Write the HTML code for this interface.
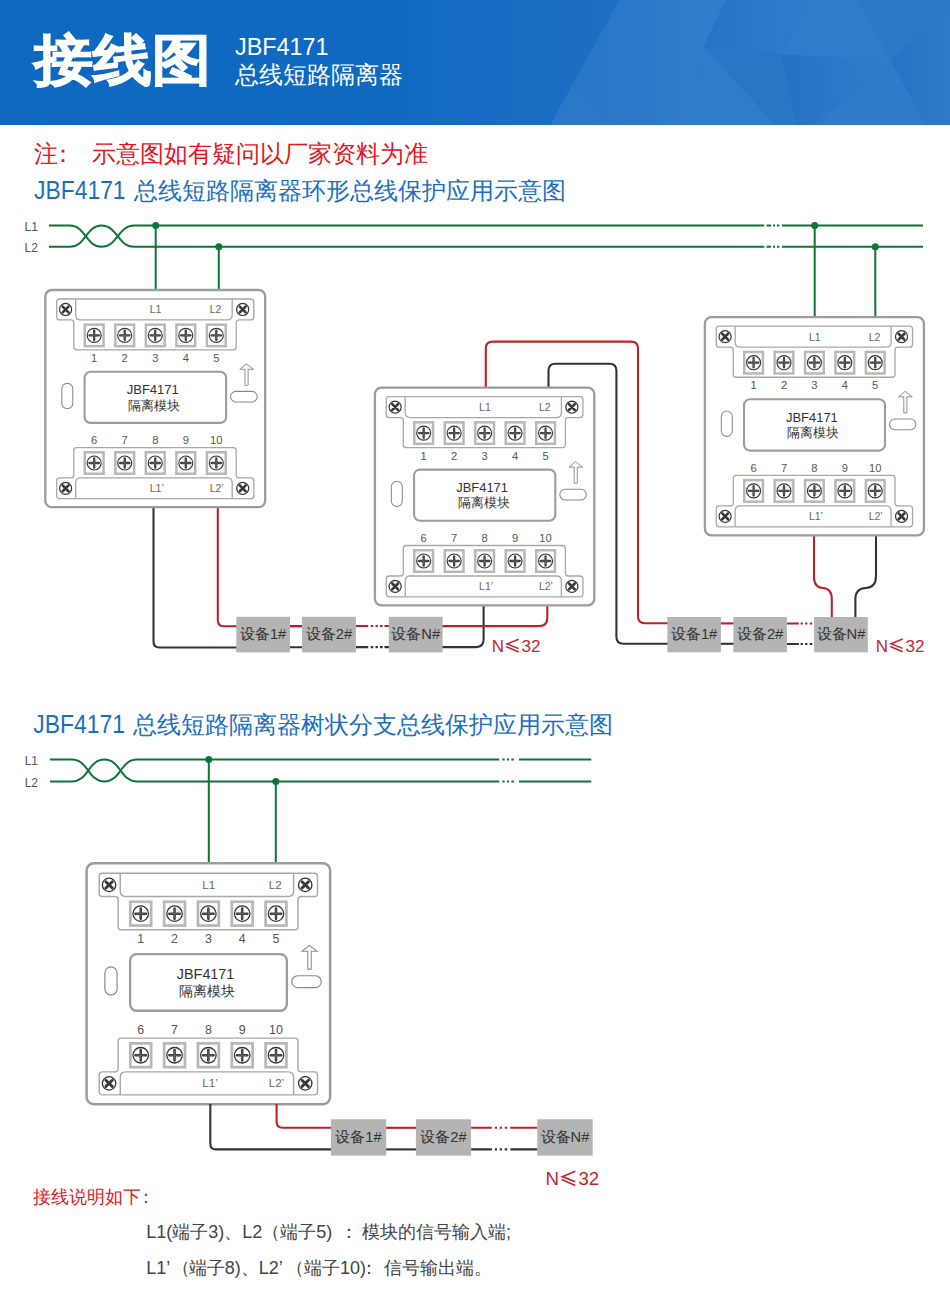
<!DOCTYPE html><html><head><meta charset="utf-8"><style>
html,body{margin:0;padding:0;background:#fff;} body{width:950px;height:1295px;overflow:hidden;position:relative;font-family:"Liberation Sans", sans-serif;}
svg{position:absolute;left:0;top:0;}
text{font-family:"Liberation Sans", sans-serif;}
.num{font-size:11.2px;fill:#555;text-anchor:middle;}
.lab{font-size:10.5px;fill:#666;}
.mt{font-size:13px;fill:#333;text-anchor:middle;}
.dev{font-size:14.7px;fill:#333;text-anchor:middle;}
</style></head><body>
<svg width="950" height="1295" viewBox="0 0 950 1295">
<defs>
<g id="screw"><circle r="6.05" fill="#fff" stroke="#333" stroke-width="1.2"/>
<path d="M-2.9,-2.9 L2.9,2.9 M2.9,-2.9 L-2.9,2.9" stroke="#383838" stroke-width="2.6" stroke-linecap="round"/></g>
<g id="term"><rect x="-9.4" y="-10.75" width="18.8" height="21.5" fill="#fff" stroke="#b8b8b8" stroke-width="2.5"/>
<circle r="7" fill="#fff" stroke="#333" stroke-width="1.15"/>
<path d="M-4.7,0 H4.7 M0,-4.7 V4.7" stroke="#3a3a3a" stroke-width="2.3" stroke-linecap="round"/>
<path d="M-4.2,0 H4.2 M0,-4.2 V4.2" stroke="#777" stroke-width="0.55"/></g>
<g id="mod">
<rect x="0" y="0" width="220" height="217.7" rx="6.5" fill="#fff" stroke="#9c9c9c" stroke-width="2.3"/>
<path d="M11.4,12 Q11.4,9 14.4,9 H205.6 Q208.6,9 208.6,12 V27 Q208.6,30 205.6,30 H194 Q191,30 191,33 V57 Q191,60 188,60 H31.5 Q28.5,60 28.5,57 V33 Q28.5,30 25.5,30 H14.4 Q11.4,30 11.4,27 Z" fill="none" stroke="#a8a8a8" stroke-width="1.3"/>
<path d="M30.4,9 V25 Q30.4,30 35.4,30 H182 Q187,30 187,25 V9" fill="none" stroke="#a8a8a8" stroke-width="1.3"/>
<path d="M11.4,206.2 Q11.4,209.2 14.4,209.2 H205.6 Q208.6,209.2 208.6,206.2 V191.4 Q208.6,188.4 205.6,188.4 H194 Q191,188.4 191,185.4 V160.9 Q191,157.9 188,157.9 H31.5 Q28.5,157.9 28.5,160.9 V185.4 Q28.5,188.4 25.5,188.4 H14.4 Q11.4,188.4 11.4,191.4 Z" fill="none" stroke="#a8a8a8" stroke-width="1.3"/>
<path d="M30.4,209.2 V193.4 Q30.4,188.4 35.4,188.4 H182 Q187,188.4 187,193.4 V209.2" fill="none" stroke="#a8a8a8" stroke-width="1.3"/>
<use href="#screw" x="20.3" y="19.5"/>
<use href="#screw" x="197.5" y="19.5"/>
<use href="#screw" x="20.3" y="198.8"/>
<use href="#screw" x="197.5" y="198.8"/>
<use href="#term" x="48.90" y="45.5"/>
<use href="#term" x="48.90" y="173.4"/>
<text x="48.90" y="72" class="num">1</text>
<text x="48.90" y="154.3" class="num">6</text>
<use href="#term" x="79.45" y="45.5"/>
<use href="#term" x="79.45" y="173.4"/>
<text x="79.45" y="72" class="num">2</text>
<text x="79.45" y="154.3" class="num">7</text>
<use href="#term" x="110.00" y="45.5"/>
<use href="#term" x="110.00" y="173.4"/>
<text x="110.00" y="72" class="num">3</text>
<text x="110.00" y="154.3" class="num">8</text>
<use href="#term" x="140.55" y="45.5"/>
<use href="#term" x="140.55" y="173.4"/>
<text x="140.55" y="72" class="num">4</text>
<text x="140.55" y="154.3" class="num">9</text>
<use href="#term" x="171.10" y="45.5"/>
<use href="#term" x="171.10" y="173.4"/>
<text x="171.10" y="72" class="num">5</text>
<text x="171.10" y="154.3" class="num">10</text>
<text x="104.5" y="23.5" class="lab">L1</text>
<text x="164.5" y="23.5" class="lab">L2</text>
<text x="104.5" y="202.4" class="lab">L1’</text>
<text x="164.5" y="202.4" class="lab">L2’</text>
<rect x="39.3" y="82" width="141.6" height="51.2" rx="6" fill="none" stroke="#9c9c9c" stroke-width="2.1"/>
<text x="107.5" y="104.6" class="mt">JBF4171</text>
<text x="109" y="119.8" class="mt">隔离模块</text>
<rect x="16.5" y="93.6" width="11" height="25.4" rx="5.5" fill="none" stroke="#8a8a8a" stroke-width="1.05"/>
<rect x="185.4" y="101.6" width="26.6" height="10.7" rx="5.35" fill="none" stroke="#8a8a8a" stroke-width="1.05"/>
<path d="M201.2,74.1 L208.3,79.5 H202.9 V95.6 H199.8 V79.5 H194.6 Z" fill="none" stroke="#8a8a8a" stroke-width="0.95" stroke-linejoin="miter"/>
</g><linearGradient id="hg" x1="0" y1="0" x2="1" y2="0"><stop offset="0" stop-color="#0e68c0"/><stop offset="0.40" stop-color="#0f69c1"/><stop offset="0.65" stop-color="#1e6fc3"/><stop offset="1" stop-color="#2c7bc8"/></linearGradient><linearGradient id="f1" x1="0" y1="0" x2="1" y2="0"><stop offset="0" stop-color="#2877c7"/><stop offset="0.5" stop-color="#2a78c7"/><stop offset="1" stop-color="#307fcb"/></linearGradient><linearGradient id="f3" x1="0" y1="0" x2="1" y2="0"><stop offset="0" stop-color="#2573c3"/><stop offset="1" stop-color="#2e7cca"/></linearGradient><linearGradient id="f8" x1="0" y1="0" x2="1" y2="0"><stop offset="0" stop-color="#2471c2"/><stop offset="1" stop-color="#2f7eca"/></linearGradient><linearGradient id="f11" x1="0" y1="0" x2="1" y2="0"><stop offset="0" stop-color="#2572c2"/><stop offset="1" stop-color="#2d7bc8"/></linearGradient></defs>
<rect x="0" y="0" width="950" height="125" fill="url(#hg)"/>
<polygon points="619.6,0 684.4,0 703.6,47 690,125 619.6,125 571,87" fill="url(#f1)"/>
<polygon points="571,87 619.6,125 550.3,125" fill="#2b78c8"/>
<polygon points="684.4,0 725.7,0 703.6,47" fill="#2f7ecb"/>
<polygon points="725.7,0 811,0 781.7,54.5 703.6,47" fill="url(#f3)"/>
<polygon points="703.6,47 781.7,54.5 796.4,125 775.8,125" fill="#2976c5"/>
<polygon points="703.6,47 775.8,125 690,125" fill="#2e7dca"/>
<polygon points="811,0 858,0 890.8,60.5 781.7,54.5" fill="#2e7dca"/>
<polygon points="781.7,54.5 890.8,60.5 813,125 796.4,125" fill="url(#f8)"/>
<polygon points="890.8,60.5 926,125 813,125" fill="#2d7bc9"/>
<polygon points="858,0 950,0 950,5.3 890.8,60.5" fill="#2b78c6"/>
<polygon points="950,5.3 950,125 926,125 890.8,60.5" fill="url(#f11)"/>
<text transform="translate(33.8,79.2) scale(1,0.933)" x="0" y="0" style="font-size:59px;font-weight:bold;fill:#fff;stroke:#fff;stroke-width:1.2">接线图</text>
<text x="235" y="54.5" style="font-size:23.4px;fill:#fff">JBF4171</text>
<text x="235" y="83" style="font-size:23.5px;fill:#fff">总线短路隔离器</text>
<text x="34" y="162" style="font-size:24px;fill:#e3161e">注</text><text x="51.2" y="162" style="font-size:24px;fill:#e3161e">：</text>
<text x="92" y="162" style="font-size:24px;fill:#e3161e">示意图如有疑问以厂家资料为准</text>
<text x="34" y="198.8" style="font-size:25px;fill:#1a6fc0" textLength="91.6" lengthAdjust="spacingAndGlyphs">JBF4171</text>
<text x="133.5" y="198.8" style="font-size:24px;fill:#1a6fc0">总线短路隔离器环形总线保护应用示意图</text>
<path d="M49,225.6 H70 C85.75,225.6 85.75,246.8 101.5,246.8 C117.75,246.8 117.75,225.6 134,225.6 H923" fill="none" stroke="#0d7538" stroke-width="2"/>
<path d="M49,246.8 H70 C85.75,246.8 85.75,225.6 101.5,225.6 C117.75,225.6 117.75,246.8 134,246.8 H923" fill="none" stroke="#0d7538" stroke-width="2"/>
<text x="24.5" y="230.8" style="font-size:12px;fill:#555">L1</text>
<text x="24.5" y="251.8" style="font-size:12px;fill:#555">L2</text>
<rect x="764.3" y="220" width="17.7" height="32" fill="#fff"/>
<path d="M766.5,225.6 H771 M773,225.6 H775 M777,225.6 H779.3" stroke="#0d7538" stroke-width="2"/>
<path d="M766.5,246.8 H771 M773,246.8 H775 M777,246.8 H779.3" stroke="#0d7538" stroke-width="2"/>
<circle cx="155.7" cy="225.6" r="3.5" fill="#0d7538"/>
<circle cx="218.8" cy="246.8" r="3.5" fill="#0d7538"/>
<circle cx="814.7" cy="225.6" r="3.5" fill="#0d7538"/>
<circle cx="875.3" cy="246.8" r="3.5" fill="#0d7538"/>
<path d="M155.7,225.6 V290 M218.8,246.8 V290 M814.7,225.6 V318 M875.3,246.8 V318" stroke="#0d7538" stroke-width="2"/>
<path d="M153.5,507 V641.5 Q153.5,647.5 159.5,647.5 H237" fill="none" stroke="#333333" stroke-width="2.1"/>
<path d="M217.8,507 V620.2 Q217.8,626.2 223.8,626.2 H237" fill="none" stroke="#c0202a" stroke-width="2.1"/>
<path d="M290,647.3 H302 M290,626.1 H302" stroke="#333333" stroke-width="2.1"/>
<path d="M290,626.1 H302" stroke="#c0202a" stroke-width="2.1"/>
<path d="M355.8,626.05 H368.2 M370.8,626.05 H373.2 M375.5,626.05 H377.9 M380,626.05 H382.6 M384.5,626.05 H389" stroke="#c0202a" stroke-width="2.1" fill="none"/>
<path d="M355.8,647.1 H368.2 M370.8,647.1 H373.2 M375.5,647.1 H377.9 M380,647.1 H382.6 M384.5,647.1 H389" stroke="#333333" stroke-width="2.1" fill="none"/>
<path d="M442,647.1 H476.1 Q483.6,647.1 483.6,639.6 V604.7" fill="none" stroke="#333333" stroke-width="2.1"/>
<path d="M442,626.1 H539.3 Q547.3,626.1 547.3,618.1 V604.7" fill="none" stroke="#c0202a" stroke-width="2.1"/>
<path d="M485.8,388 V348.6 Q485.8,341.6 492.8,341.6 H631 Q638,341.6 638,348.6 V616.3 Q638,623.3 645,623.3 H668" fill="none" stroke="#c0202a" stroke-width="2.1"/>
<path d="M548.5,388 V370.7 Q548.5,363.7 555.5,363.7 H609.4 Q616.4,363.7 616.4,370.7 V636.7 Q616.4,643.7 623.4,643.7 H668" fill="none" stroke="#333333" stroke-width="2.1"/>
<path d="M720.5,623.4 H734" stroke="#c0202a" stroke-width="2.1"/>
<path d="M720.5,643.8 H734" stroke="#333333" stroke-width="2.1"/>
<path d="M786.9,623.45 H798.9 M800.6,623.45 H802.9 M805,623.45 H807.4 M809.7,623.45 H812.2" stroke="#c0202a" stroke-width="2.1" fill="none"/>
<path d="M786.9,644.0 H798.9 M800.6,644.0 H802.9 M805,644.0 H807.4 M809.7,644.0 H812.2" stroke="#333333" stroke-width="2.1" fill="none"/>
<path d="M814,535 V577 Q814,587.5 822.9,588 Q831.8,588.5 831.8,599 V618" fill="none" stroke="#c0202a" stroke-width="2.1"/>
<path d="M876,535 V576 Q876,587.5 865.7,588 Q855.4,588.5 855.4,599 V618" fill="none" stroke="#333333" stroke-width="2.1"/>
<rect x="236.3" y="616.8" width="53.7" height="35.6" fill="#b4b4b4"/><text x="263.1" y="638.8" class="dev">设备1#</text>
<rect x="302" y="616.8" width="53.9" height="35.6" fill="#b4b4b4"/><text x="328.9" y="638.8" class="dev">设备2#</text>
<rect x="388.8" y="616.8" width="53.8" height="35.6" fill="#b4b4b4"/><text x="415.7" y="638.8" class="dev">设备N#</text>
<rect x="667.4" y="617" width="53.5" height="35.3" fill="#b4b4b4"/><text x="694.1" y="638.7" class="dev">设备1#</text>
<rect x="733.4" y="617" width="53.5" height="35.3" fill="#b4b4b4"/><text x="760.1" y="638.7" class="dev">设备2#</text>
<rect x="814.1" y="617" width="53.7" height="35.3" fill="#b4b4b4"/><text x="841.0" y="638.7" class="dev">设备N#</text>
<text x="491.70" y="651.7" style="font-size:17.00px;fill:#c0272d">N</text><path d="M518.70,639.20 L506.90,644.00 L518.70,648.60 M506.30,646.70 L518.70,652.00" fill="none" stroke="#c0272d" stroke-width="1.50"/><text x="521.50" y="651.7" style="font-size:17.00px;fill:#c0272d">32</text>
<text x="875.70" y="651.5" style="font-size:17.00px;fill:#c0272d">N</text><path d="M902.70,639.00 L890.90,643.80 L902.70,648.40 M890.30,646.50 L902.70,651.80" fill="none" stroke="#c0272d" stroke-width="1.50"/><text x="905.50" y="651.5" style="font-size:17.00px;fill:#c0272d">32</text>
<use href="#mod" transform="translate(45.3,290) scale(0.9995,0.9977)"/>
<use href="#mod" transform="translate(374.9,387.6) scale(0.9973,1)"/>
<use href="#mod" transform="translate(704.9,317.1) scale(0.9955,1.0023)"/>
<text x="33.3" y="733.2" style="font-size:25px;fill:#1a6fc0" textLength="91.6" lengthAdjust="spacingAndGlyphs">JBF4171</text>
<text x="133" y="733.2" style="font-size:24px;fill:#1a6fc0">总线短路隔离器树状分支总线保护应用示意图</text>
<path d="M50,759.6 H72 C88.2,759.6 88.2,781.5 104.4,781.5 C120.60000000000001,781.5 120.60000000000001,759.6 136.8,759.6 H591.3" fill="none" stroke="#0d7538" stroke-width="2"/>
<path d="M50,781.5 H72 C88.2,781.5 88.2,759.6 104.4,759.6 C120.60000000000001,759.6 120.60000000000001,781.5 136.8,781.5 H591.3" fill="none" stroke="#0d7538" stroke-width="2"/>
<text x="24.7" y="764.7" style="font-size:12px;fill:#555">L1</text>
<text x="24.7" y="786.8" style="font-size:12px;fill:#555">L2</text>
<rect x="499.2" y="754" width="19.8" height="32" fill="#fff"/>
<path d="M502.4,759.6 H504.7 M507,759.6 H509 M511.4,759.6 H513.9" stroke="#0d7538" stroke-width="2"/>
<path d="M502.4,781.5 H504.7 M507,781.5 H509 M511.4,781.5 H513.9" stroke="#0d7538" stroke-width="2"/>
<circle cx="208.8" cy="759.6" r="3.5" fill="#0d7538"/>
<circle cx="275.8" cy="781.5" r="3.5" fill="#0d7538"/>
<path d="M208.8,759.6 V864 M275.8,781.5 V864" stroke="#0d7538" stroke-width="2"/>
<use href="#mod" transform="translate(86.6,863.3) scale(1.107,1.107)"/>
<path d="M210.3,1104 V1143.4 Q210.3,1149.4 216.3,1149.4 H332" fill="none" stroke="#333333" stroke-width="2.1"/>
<path d="M276.6,1104 V1121.8 Q276.6,1127.8 282.6,1127.8 H332" fill="none" stroke="#c0202a" stroke-width="2.1"/>
<path d="M386,1127.8 H416" stroke="#c0202a" stroke-width="2.1"/>
<path d="M386,1149.4 H416" stroke="#333333" stroke-width="2.1"/>
<path d="M471.1,1127.8 H491.9 M494.9,1127.8 H497 M499.7,1127.8 H502 M504.7,1127.8 H507.1 M510.3,1127.8 H537.5" stroke="#c0202a" stroke-width="2.1" fill="none"/>
<path d="M471.1,1149.4 H491.9 M494.9,1149.4 H497 M499.7,1149.4 H502 M504.7,1149.4 H507.1 M510.3,1149.4 H537.5" stroke="#333333" stroke-width="2.1" fill="none"/>
<rect x="330.9" y="1119.3" width="55.3" height="36.3" fill="#b4b4b4"/><text x="358.5" y="1142.0" class="dev">设备1#</text>
<rect x="415.9" y="1119.3" width="55.2" height="36.3" fill="#b4b4b4"/><text x="443.5" y="1142.0" class="dev">设备2#</text>
<rect x="537.3" y="1119.3" width="55.4" height="36.3" fill="#b4b4b4"/><text x="565.0" y="1142.0" class="dev">设备N#</text>
<text x="545.60" y="1185.1" style="font-size:18.70px;fill:#c0272d">N</text><path d="M575.30,1171.35 L562.32,1176.63 L575.30,1181.69 M561.66,1179.60 L575.30,1185.43" fill="none" stroke="#c0272d" stroke-width="1.65"/><text x="578.38" y="1185.1" style="font-size:18.70px;fill:#c0272d">32</text>
<text y="1203.3" style="font-size:17.8px;fill:#e3161e"><tspan x="33">接线说明如下</tspan><tspan x="137.3">：</tspan></text>
<text y="1237.5" style="font-size:18px;fill:#444"><tspan x="146.2">L1(端子3)、L2（端子5)</tspan><tspan x="340.4">：</tspan><tspan x="362">模块的信号输入端;</tspan></text>
<text y="1273.6" style="font-size:18px;fill:#444"><tspan x="146.2">L1’</tspan><tspan x="172.2">（</tspan><tspan x="188.8">端子8)、L2’</tspan><tspan x="286">（端子10)</tspan><tspan x="360.4">：</tspan><tspan x="384.2">信号输出端。</tspan></text>
</svg></body></html>
